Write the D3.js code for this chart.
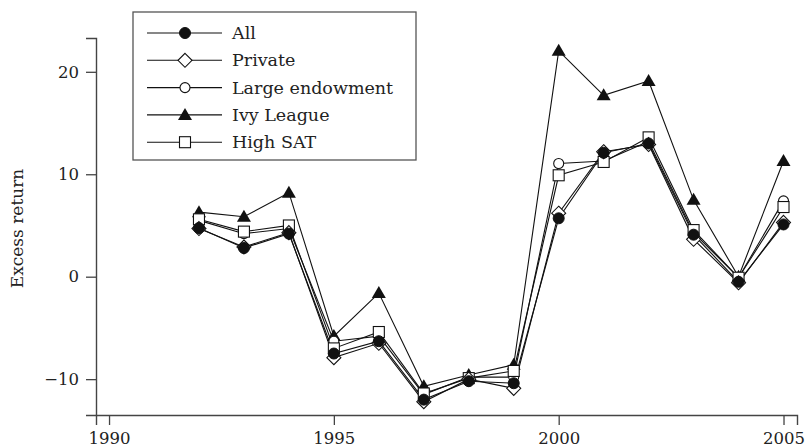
<!DOCTYPE html>
<html>
<head>
<meta charset="utf-8">
<script src="https://cdn.jsdelivr.net/npm/d3@7"></script>
<style>
  html, body { margin: 0; padding: 0; background: #fff; }
  svg { display: block; }
  text { font-family: "DejaVu Serif", serif; fill: #222; }
</style>
</head>
<body>
<svg id="chart" width="805" height="448"></svg>
<script>
const years = [1992, 1993, 1994, 1995, 1996, 1997, 1998, 1999, 2000, 2001, 2002, 2003, 2004, 2005];
const seriesNames = ["All", "Private", "Large endowment", "Ivy League", "High SAT"];
const allVals     = [4.75, 2.8, 4.2, -7.5, -6.3, -12.0, -10.2, -10.4, 5.7, 12.1, 13.0, 4.1, -0.5, 5.1];
const privateVals = [4.7, 2.9, 4.3, -7.9, -6.5, -12.2, -10.0, -10.9, 6.2, 12.2, 12.9, 3.65, -0.6, 5.3];
const largeVals   = [5.5, 4.2, 4.7, -6.3, -5.8, -11.5, -9.8, -9.8, 11.05, 11.3, 13.2, 4.3, -0.1, 7.4];
const ivyVals     = [6.3, 5.85, 8.2, -5.8, -1.6, -10.7, -9.6, -8.6, 22.05, 17.7, 19.1, 7.5, 0.0, 11.3];
const satVals     = [5.6, 4.4, 5.0, -7.0, -5.4, -11.4, -9.9, -9.2, 9.9, 11.2, 13.6, 4.55, -0.1, 6.8];
const xTicks = [1990, 1995, 2000, 2005];
const yTicks = [-10, 0, 10, 20];
const yLabel = "Excess return";

const series = [
  { name: seriesNames[0], values: allVals, marker: "circleFilled" },
  { name: seriesNames[1], values: privateVals, marker: "diamondOpen" },
  { name: seriesNames[2], values: largeVals, marker: "circleOpen" },
  { name: seriesNames[3], values: ivyVals, marker: "triangleFilled" },
  { name: seriesNames[4], values: satVals, marker: "squareOpen" }
];
const drawOrder = [3, 2, 4, 1, 0];

const svg = d3.select("#chart");
const axisColor = "#444";

const x = d3.scaleLinear().domain([1989.71, 2005.3]).range([96, 797]);
const y = d3.scaleLinear().domain([-13.5, 23.3]).range([415, 38]);

const xAxis = d3.axisBottom(x).tickValues(xTicks).tickFormat(d3.format("d")).tickSize(10).tickPadding(7);
const yAxis = d3.axisLeft(y).tickValues(yTicks).tickFormat(d => d < 0 ? "\u2212" + Math.abs(d) : d).tickSize(10).tickPadding(7);

const gx = svg.append("g").attr("transform", `translate(0,${y(-13.5)})`).call(xAxis);
const gy = svg.append("g").attr("transform", `translate(${x(1989.71)},0)`).call(yAxis);
[gx, gy].forEach(g => {
  g.select(".domain").attr("stroke", axisColor).attr("stroke-width", 1.4);
  g.selectAll(".tick line").attr("stroke", axisColor).attr("stroke-width", 1.3);
  g.selectAll(".tick text").attr("font-family", "DejaVu Serif, serif").attr("font-size", 16.5).attr("fill", "#222");
});

svg.append("text")
  .attr("transform", `translate(23,${(y(-13.5) + y(23.3)) / 2 + 2}) rotate(-90)`)
  .attr("text-anchor", "middle")
  .attr("font-size", 17)
  .text(yLabel);

function drawMarker(g, type, cx, cy) {
  switch (type) {
    case "circleFilled":
      g.append("circle").attr("cx", cx).attr("cy", cy).attr("r", 5.5).attr("fill", "#111").attr("stroke", "#111");
      break;
    case "circleOpen":
      g.append("circle").attr("cx", cx).attr("cy", cy).attr("r", 5).attr("fill", "#fff").attr("stroke", "#111").attr("stroke-width", 1.1);
      break;
    case "diamondOpen":
      g.append("path").attr("d", `M${cx},${cy - 7}L${cx + 7},${cy}L${cx},${cy + 7}L${cx - 7},${cy}Z`)
        .attr("fill", "#fff").attr("stroke", "#111").attr("stroke-width", 1.1);
      break;
    case "triangleFilled":
      g.append("path").attr("d", `M${cx},${cy - 7}L${cx + 7},${cy + 5}L${cx - 7},${cy + 5}Z`).attr("fill", "#111");
      break;
    case "squareOpen":
      g.append("rect").attr("x", cx - 5.5).attr("y", cy - 5.5).attr("width", 11).attr("height", 11)
        .attr("fill", "#fff").attr("stroke", "#111").attr("stroke-width", 1.1);
      break;
  }
}

const line = d3.line().x((d, i) => x(years[i])).y(d => y(d));

const plot = svg.append("g");
drawOrder.forEach(si => {
  const s = series[si];
  plot.append("path").datum(s.values).attr("d", line).attr("fill", "none").attr("stroke", "#111").attr("stroke-width", 1.1);
});
drawOrder.forEach(si => {
  const s = series[si];
  const g = plot.append("g");
  s.values.forEach((v, i) => drawMarker(g, s.marker, x(years[i]), y(v)));
});

const legend = svg.append("g");
legend.append("rect").attr("x", 133).attr("y", 12).attr("width", 283).attr("height", 148)
  .attr("fill", "#fff").attr("stroke", "#555").attr("stroke-width", 1.3);
series.forEach((s, i) => {
  const ly = 33 + i * 27.3;
  legend.append("line").attr("x1", 147).attr("x2", 222).attr("y1", ly).attr("y2", ly).attr("stroke", "#111").attr("stroke-width", 1.1);
  drawMarker(legend, s.marker, 185, ly);
  legend.append("text").attr("x", 232).attr("y", ly + 6).attr("font-size", 17.5).text(s.name);
});
</script>
</body>
</html>
